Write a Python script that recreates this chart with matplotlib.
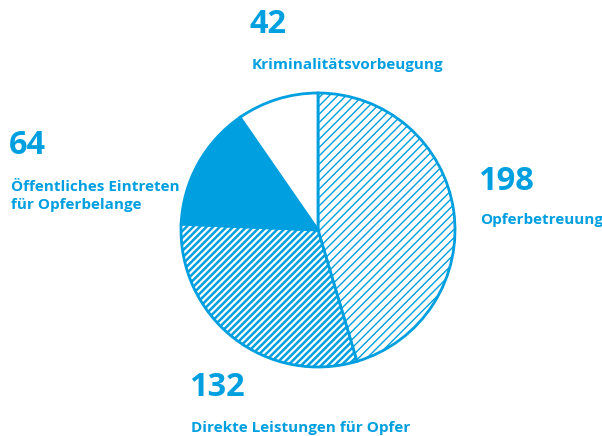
import matplotlib.pyplot as plt

# Anzahl der Projekte nach Bereich
werte = [198, 132, 64, 42]
bereiche = ['Opferbetreuung', 'Direkte Leistungen für Opfer',
            'Öffentliches Eintreten\nfür Opferbelange', 'Kriminalitätsvorbeugung']

blau = '#009fe0'
plt.rcParams['font.family'] = ['Open Sans', 'DejaVu Sans']

fig = plt.figure(figsize=(6.02, 4.36), dpi=100)
ax = fig.add_axes([0, 0, 1, 1])

keile, _ = ax.pie(werte, startangle=90, counterclock=False,
                  center=(318, 206), radius=137,
                  colors=['white', 'white', blau, 'white'],
                  wedgeprops=dict(edgecolor=blau, linewidth=2))
keile[0].set_hatch('////')
keile[1].set_hatch('/////')
if hasattr(keile[0], 'set_hatch_linewidth'):
    keile[0].set_hatch_linewidth(1.0)
    keile[1].set_hatch_linewidth(1.8)

ax.set_xlim(0, 602)
ax.set_ylim(0, 436)
ax.set_aspect('equal')
ax.axis('off')

# Zahl + Beschriftung (Pixelpositionen, y von unten)
beschriftung = [
    (478, 254, 216, 0),
    (189, 48, 8, 1),
    (9, 291, 240, 2),
    (250, 411, 371, 3),
]
for x, y_zahl, y_text, i in beschriftung:
    ax.text(x, y_zahl, str(werte[i]), color=blau, fontsize=23.5,
            fontweight='bold', va='center', ha='left')
    ax.text(x + 2, y_text, bereiche[i], color=blau, fontsize=11,
            fontweight='bold', va='center', ha='left', linespacing=1.35)

fig.savefig('out.png', dpi=100)
